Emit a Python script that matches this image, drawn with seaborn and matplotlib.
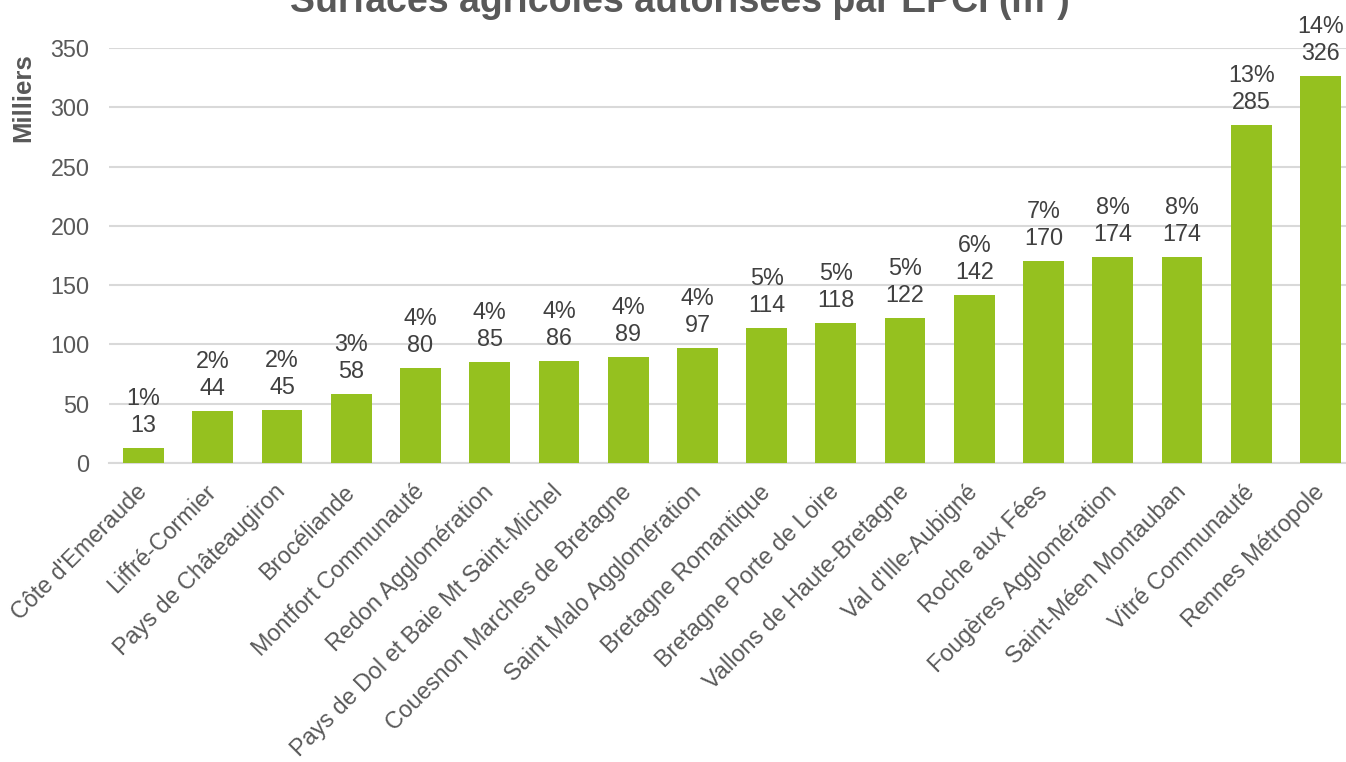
import matplotlib
matplotlib.use("Agg")
import matplotlib.pyplot as plt
import matplotlib.transforms as mtransforms
import seaborn as sns
import pandas as pd

# EPCI names, surfaces (thousands of m²) and share of total
epci = [
    "Côte d'Emeraude", "Liffré-Cormier", "Pays de Châteaugiron", "Brocéliande",
    "Montfort Communauté", "Redon Agglomération", "Pays de Dol et Baie Mt Saint-Michel",
    "Couesnon Marches de Bretagne", "Saint Malo Agglomération", "Bretagne Romantique",
    "Bretagne Porte de Loire", "Vallons de Haute-Bretagne", "Val d'Ille-Aubigné",
    "Roche aux Fées", "Fougères Agglomération", "Saint-Méen Montauban",
    "Vitré Communauté", "Rennes Métropole",
]
surface_milliers = [13, 44, 45, 58, 80, 85, 86, 89, 97, 114, 118, 122, 142, 170, 174, 174, 285, 326]
part_pct = [1, 2, 2, 3, 4, 4, 4, 4, 4, 5, 5, 5, 6, 7, 8, 8, 13, 14]
y_ticks = [0, 50, 100, 150, 200, 250, 300, 350]

df = pd.DataFrame({"epci": epci, "surface": surface_milliers, "part": part_pct})

sns.set_theme(style="white")
plt.rcParams["font.family"] = ["Liberation Sans", "DejaVu Sans"]

W, H = 1346, 762
fig = plt.figure(figsize=(W / 100, H / 100), dpi=100)
ax = fig.add_axes([109 / W, (H - 463) / H, (1355 - 109) / W, (463 - 48) / H])

bar_color = "#95C11F"
tick_color = "#595959"
label_color = "#404040"
grid_color = "#D9D9D9"

sns.barplot(data=df, x="epci", y="surface", color=bar_color, width=0.59,
            saturation=1, ax=ax, zorder=3)
for p in ax.patches:
    p.set_edgecolor("none")

ax.set_xlim(-0.5, len(epci) - 0.5)
ax.set_ylim(0, 350)
ax.set_yticks(y_ticks)
ax.set_yticklabels([str(t) for t in y_ticks])
ax.yaxis.grid(True, color=grid_color, linewidth=1.5, zorder=0)
ax.xaxis.grid(False)
for side in ["left", "right", "top"]:
    ax.spines[side].set_visible(False)
ax.spines["bottom"].set_color(grid_color)
ax.spines["bottom"].set_linewidth(1.5)
ax.set_xlabel("")
ax.set_ylabel("")

ax.tick_params(axis="y", length=0, pad=14, labelsize=16.8, labelcolor=tick_color)
ax.tick_params(axis="x", length=0, pad=12.5, labelsize=16.8, labelcolor=tick_color)
shift = mtransforms.ScaledTranslation(-8 / 100, 0, fig.dpi_scale_trans)
for lbl in ax.get_xticklabels():
    lbl.set_rotation(45)
    lbl.set_ha("right")
    lbl.set_rotation_mode("anchor")
    lbl.set_transform(lbl.get_transform() + shift)

# value and share labels above each bar
for i, (v, pc) in enumerate(zip(surface_milliers, part_pct)):
    ax.annotate(f"{v}", xy=(i, v), xytext=(0, 16), textcoords="offset pixels",
                ha="center", va="baseline", fontsize=16.8, color=label_color)
    ax.annotate(f"{pc}%", xy=(i, v), xytext=(0, 43), textcoords="offset pixels",
                ha="center", va="baseline", fontsize=16.8, color=label_color)

fig.text(680 / W, (H - 12) / H, "Surfaces agricoles autorisées par EPCI (m²)",
         ha="center", va="baseline", fontsize=27, fontweight="bold", color=tick_color)
fig.text(23 / W, (H - 98) / H, "Milliers", rotation=90, ha="center", va="center",
         fontsize=18.5, fontweight="bold", color=tick_color)

fig.savefig("out.png", dpi=100)
